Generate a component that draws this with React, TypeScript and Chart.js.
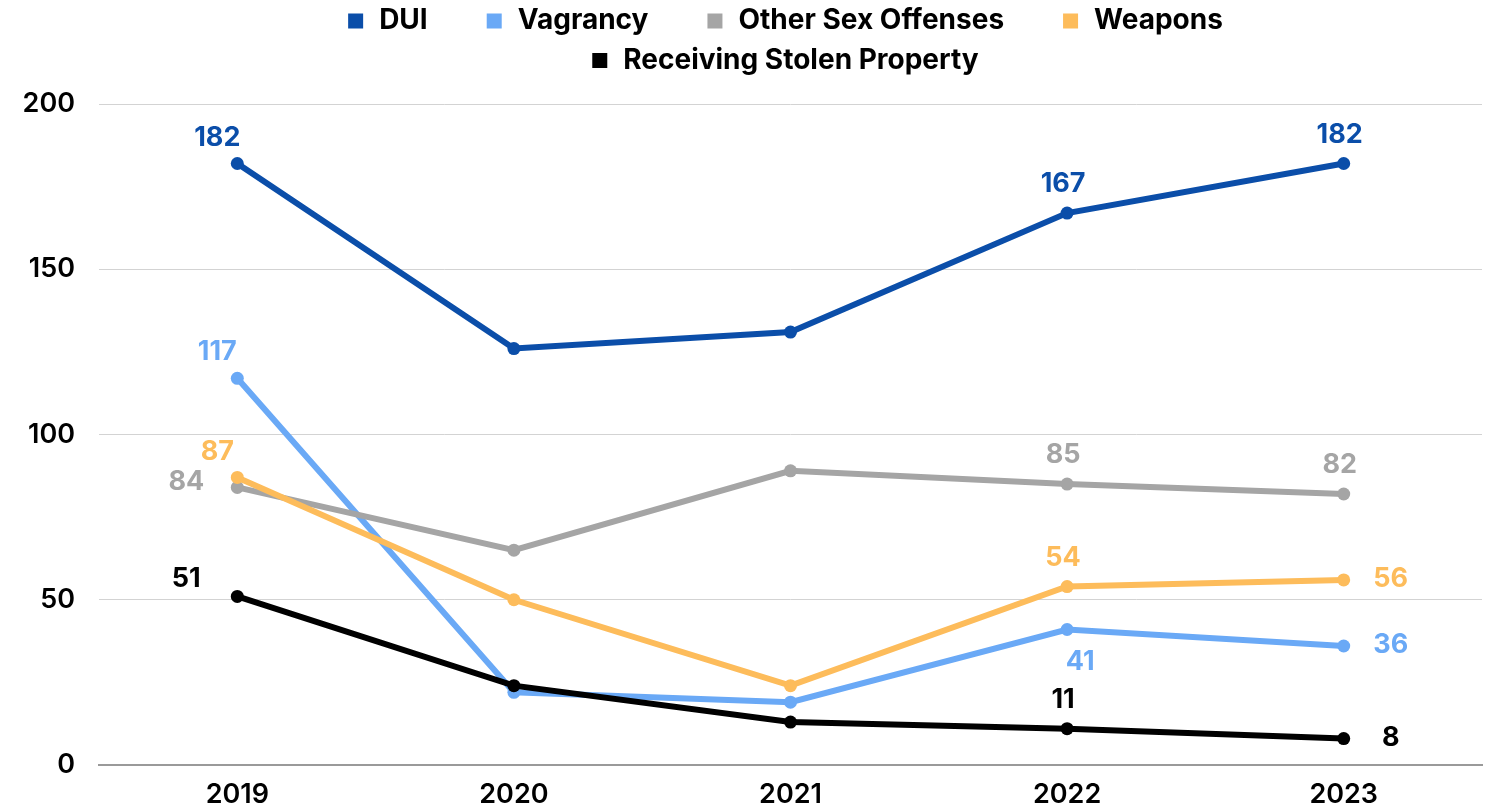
import React, { useEffect, useRef } from 'react';
import { Chart, registerables } from 'chart.js';

Chart.register(...registerables);

// ---- data ----
const years = ['2019', '2020', '2021', '2022', '2023'];
const seriesNames = ['DUI', 'Vagrancy', 'Other Sex Offenses', 'Weapons', 'Receiving Stolen Property'];
const dui = [182, 126, 131, 167, 182];
const vagrancy = [117, 22, 19, 41, 36];
const otherSexOffenses = [84, 65, 89, 85, 82];
const weapons = [87, 50, 24, 54, 56];
const receivingStolenProperty = [51, 24, 13, 11, 8];
const yTickValues = [0, 50, 100, 150, 200];

const seriesColors = ['#0b4ea9', '#6aa9f6', '#a5a5a5', '#fdbc5b', '#000000'];

// which points carry a value label, and on which side of the point
const labelPlacement: (string | null)[][] = [
  ['aboveLeft', null, null, 'above', 'above'],
  ['aboveLeft', null, null, 'below', 'right'],
  ['left', null, null, 'above', 'above'],
  ['aboveLeft', null, null, 'above', 'right'],
  ['upperLeft', null, null, 'above', 'right'],
];

const placementOffsets: Record<string, [number, number]> = {
  above: [-4, -29],
  aboveLeft: [-20, -26],
  left: [-51, -6],
  upperLeft: [-51, -18],
  right: [47, -1],
  below: [13, 32],
};

const FONT = 'Inter, "DejaVu Sans", sans-serif';

const valueLabelPlugin = {
  id: 'valueLabels',
  afterDatasetsDraw(chart: any) {
    const ctx = chart.ctx;
    ctx.save();
    ctx.font = `700 27px ${FONT}`;
    ctx.textAlign = 'center';
    ctx.textBaseline = 'middle';
    chart.data.datasets.forEach((ds: any, di: number) => {
      const meta = chart.getDatasetMeta(di);
      labelPlacement[di].forEach((place, i) => {
        if (!place) return;
        const pt = meta.data[i];
        const [dx, dy] = placementOffsets[place];
        ctx.fillStyle = ds.borderColor;
        ctx.fillText(String(ds.data[i]), pt.x + dx, pt.y + dy);
      });
    });
    ctx.restore();
  },
};

const customLegendPlugin = {
  id: 'customLegend',
  afterDraw(chart: any) {
    const ctx = chart.ctx;
    const area = chart.chartArea;
    const box = 15;
    const boxGap = 16;
    const itemGap = 59;
    const rowCenters = [21, 60.5];
    ctx.save();
    ctx.font = `700 28px ${FONT}`;
    ctx.textBaseline = 'middle';
    ctx.textAlign = 'left';
    const items = chart.data.datasets.map((ds: any) => {
      const tw = ctx.measureText(ds.label).width;
      return { label: ds.label, color: ds.borderColor, w: box + boxGap + tw };
    });
    const maxRow = (area.right - area.left) * 0.9;
    const rows: any[][] = [[]];
    let rowW = 0;
    items.forEach((it: any) => {
      const add = (rows[rows.length - 1].length ? itemGap : 0) + it.w;
      if (rows[rows.length - 1].length && rowW + add > maxRow) {
        rows.push([it]);
        rowW = it.w;
      } else {
        rows[rows.length - 1].push(it);
        rowW += add;
      }
    });
    const cx = (area.left + area.right) / 2 - 5;
    rows.forEach((row, r) => {
      const total = row.reduce((s, it, k) => s + it.w + (k ? itemGap : 0), 0);
      let x = cx - total / 2;
      const y = rowCenters[r] ?? rowCenters[0] + r * 39.5;
      row.forEach((it) => {
        ctx.fillStyle = it.color;
        ctx.fillRect(x, y - box / 2, box, box);
        ctx.fillStyle = '#000000';
        ctx.fillText(it.label, x + box + boxGap, y);
        x += it.w + itemGap;
      });
    });
    ctx.restore();
  },
};

export default function App() {
  const canvasRef = useRef<HTMLCanvasElement | null>(null);

  useEffect(() => {
    document.body.style.margin = '0';
    const canvas = canvasRef.current;
    if (!canvas) return;
    const seriesValues = [dui, vagrancy, otherSexOffenses, weapons, receivingStolenProperty];
    const chart = new Chart(canvas, {
      type: 'line',
      data: {
        labels: years,
        datasets: seriesNames.map((name, i) => ({
          label: name,
          data: seriesValues[i],
          borderColor: seriesColors[i],
          backgroundColor: seriesColors[i],
          pointBackgroundColor: seriesColors[i],
          pointBorderWidth: 0,
          pointRadius: 6.5,
          borderWidth: 6,
          tension: 0,
          fill: false,
          order: seriesNames.length - i,
        })),
      },
      options: {
        animation: false,
        responsive: false,
        maintainAspectRatio: false,
        layout: { padding: { top: 104, right: 9, left: 0, bottom: 0 } },
        plugins: {
          legend: { display: false },
          tooltip: { enabled: false },
        },
        scales: {
          x: {
            offset: true,
            grid: { display: false, drawTicks: false },
            border: { display: true, color: '#9a9a9a', width: 2 },
            ticks: {
              color: '#000000',
              font: { family: FONT, size: 27, weight: '600' },
              padding: 14,
              maxRotation: 0,
            },
            afterFit(scale: any) {
              scale.height = 44;
            },
          },
          y: {
            min: 0,
            max: 200,
            grid: { color: '#d3d3d3', lineWidth: 1, drawTicks: false },
            border: { display: false },
            ticks: {
              color: '#000000',
              font: { family: FONT, size: 27, weight: '600' },
              padding: 24,
            },
            afterBuildTicks(scale: any) {
              scale.ticks = yTickValues.map((v) => ({ value: v }));
            },
            afterFit(scale: any) {
              scale.width = 99;
            },
          },
        },
      },
      plugins: [valueLabelPlugin, customLegendPlugin],
    });
    return () => chart.destroy();
  }, []);

  return (
    <div style={{ width: 1491, height: 809, background: '#ffffff' }}>
      <canvas ref={canvasRef} width={1491} height={809} style={{ display: 'block' }} />
    </div>
  );
}
